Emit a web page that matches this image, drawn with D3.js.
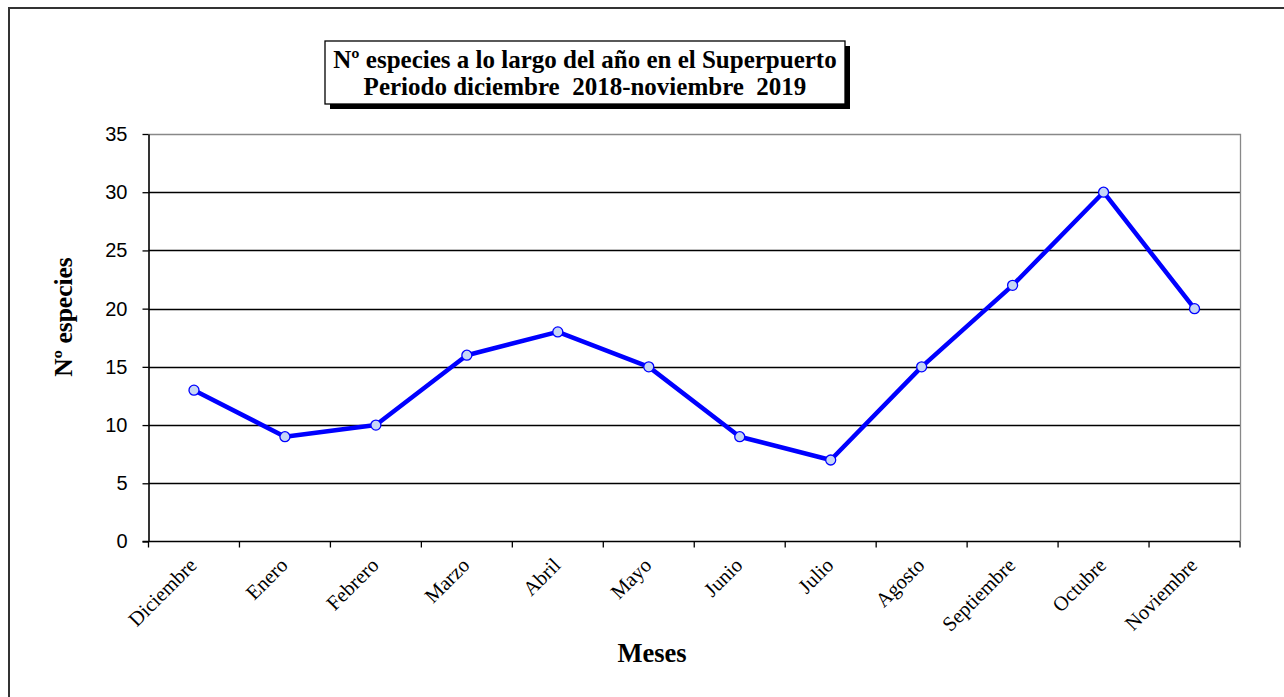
<!DOCTYPE html>
<html>
<head>
<meta charset="utf-8">
<script src="https://cdn.jsdelivr.net/npm/d3@7/dist/d3.min.js"></script>
<style>
  html, body { margin: 0; padding: 0; background: #fff; }
  svg { display: block; }
</style>
</head>
<body>
<svg id="chart" width="1284" height="697"></svg>
<script>
// Months of the sampling period and species counts
const months = ["Diciembre", "Enero", "Febrero", "Marzo", "Abril", "Mayo",
                "Junio", "Julio", "Agosto", "Septiembre", "Octubre", "Noviembre"];
const species = [13, 9, 10, 16, 18, 15, 9, 7, 15, 22, 30, 20];
const yTicks = [0, 5, 10, 15, 20, 25, 30, 35];
const titleLines = ["Nº especies a lo largo del año en el Superpuerto",
                    "Periodo diciembre  2018-noviembre  2019"];
const yTitle = "Nº especies";
const xTitle = "Meses";

const svg = d3.select("#chart");
const W = 1284, H = 697;
const plot = { left: 148.5, right: 1240, top: 134, bottom: 541.5 };
const serif = "Liberation Serif, 'Times New Roman', serif";

// Outer chart frame (only left and top edges fall inside the view)
svg.append("rect")
  .attr("x", 9).attr("y", 8)
  .attr("width", W + 20).attr("height", H + 20)
  .attr("fill", "#fff").attr("stroke", "#333").attr("stroke-width", 2);

const x = d3.scaleBand().domain(months).range([plot.left, plot.right]).padding(0);
const y = d3.scaleLinear().domain([0, 35]).range([plot.bottom, plot.top]);

// Horizontal gridlines
svg.append("g")
  .selectAll("line")
  .data(yTicks.filter(t => t > 0 && t < 35))
  .join("line")
  .attr("x1", plot.left).attr("x2", plot.right)
  .attr("y1", d => Math.round(y(d)) + 0.5).attr("y2", d => Math.round(y(d)) + 0.5)
  .attr("stroke", "#000").attr("stroke-width", 1.3);

// Plot area border (top and right)
svg.append("path")
  .attr("d", `M${plot.left},${Math.round(plot.top) + 0.5}H${plot.right + 0.5}V${plot.bottom}`)
  .attr("fill", "none").attr("stroke", "#888").attr("stroke-width", 1.3);

// Y axis
const yAxis = svg.append("g")
  .attr("transform", `translate(${plot.left},0)`)
  .call(d3.axisLeft(y).tickValues(yTicks).tickSize(6).tickSizeOuter(0).tickPadding(15));
yAxis.select(".domain").attr("stroke", "#000").attr("stroke-width", 1.6);
yAxis.selectAll(".tick line").attr("stroke", "#000").attr("stroke-width", 1.3);
yAxis.selectAll(".tick text")
  .attr("font-family", "Liberation Sans, Arial, sans-serif")
  .attr("font-size", 20).attr("fill", "#000");

// X axis: ticks on month boundaries, labels at band centres
const bounds = months.map(m => x(m)).concat([plot.right]);
const xAxisG = svg.append("g");
xAxisG.append("line")
  .attr("x1", plot.left - 6).attr("x2", plot.right)
  .attr("y1", plot.bottom).attr("y2", plot.bottom)
  .attr("stroke", "#000").attr("stroke-width", 1.6);
xAxisG.selectAll("line.tk")
  .data(bounds)
  .join("line").attr("class", "tk")
  .attr("x1", d => d).attr("x2", d => d)
  .attr("y1", plot.bottom).attr("y2", plot.bottom + 6)
  .attr("stroke", "#000").attr("stroke-width", 1.3);
xAxisG.selectAll("text")
  .data(months)
  .join("text")
  .attr("transform", d => `translate(${x(d) + x.bandwidth() / 2 + 4},${plot.bottom + 25}) rotate(-45)`)
  .attr("text-anchor", "end")
  .attr("font-family", serif)
  .attr("font-size", 20.5).attr("fill", "#000")
  .text(d => d);

// Series line
const line = d3.line()
  .x((d, i) => x(months[i]) + x.bandwidth() / 2)
  .y(d => y(d));
svg.append("path")
  .datum(species)
  .attr("d", line)
  .attr("fill", "none").attr("stroke", "#0000ff")
  .attr("stroke-width", 4.5).attr("stroke-linejoin", "round");

// Markers
svg.append("g")
  .selectAll("circle")
  .data(species)
  .join("circle")
  .attr("cx", (d, i) => x(months[i]) + x.bandwidth() / 2)
  .attr("cy", d => y(d))
  .attr("r", 5)
  .attr("fill", "#c6d6f6").attr("stroke", "#0000ff").attr("stroke-width", 1.3);

// Axis titles
svg.append("text")
  .attr("transform", `translate(72,317) rotate(-90)`)
  .attr("text-anchor", "middle")
  .attr("font-family", serif)
  .attr("font-weight", "bold").attr("font-size", 25.5).attr("fill", "#000")
  .text(yTitle);

svg.append("text")
  .attr("x", 652).attr("y", 662)
  .attr("text-anchor", "middle")
  .attr("font-family", serif)
  .attr("font-weight", "bold").attr("font-size", 26.5).attr("fill", "#000")
  .text(xTitle);

// Title box with drop shadow
const tb = { x: 325, y: 41, w: 520, h: 63 };
svg.append("rect")
  .attr("x", tb.x + 5).attr("y", tb.y + 5).attr("width", tb.w).attr("height", tb.h)
  .attr("fill", "#000");
svg.append("rect")
  .attr("x", tb.x).attr("y", tb.y).attr("width", tb.w).attr("height", tb.h)
  .attr("fill", "#fff").attr("stroke", "#000").attr("stroke-width", 1.3);
svg.append("g")
  .selectAll("text")
  .data(titleLines)
  .join("text")
  .attr("x", tb.x + tb.w / 2)
  .attr("y", (d, i) => 68 + i * 27)
  .attr("text-anchor", "middle")
  .attr("font-family", serif)
  .attr("font-weight", "bold").attr("font-size", 25).attr("fill", "#000")
  .style("white-space", "pre")
  .text(d => d);
</script>
</body>
</html>
